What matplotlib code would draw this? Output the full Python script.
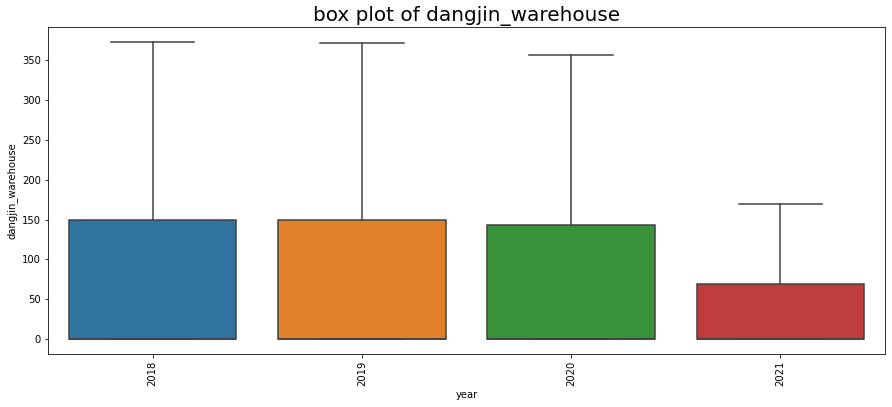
import matplotlib
matplotlib.use("Agg")
import matplotlib.pyplot as plt
from matplotlib.patches import PathPatch

# box statistics
years = ["2018", "2019", "2020", "2021"]
q1 = [0, 0, 0, 0]
median = [0, 0, 0, 0]
q3 = [149, 149, 143, 69]
whis_lo = [0, 0, 0, 0]
whis_hi = [373, 372, 357, 170]
colors = ["#3274a1", "#e1812c", "#3a923a", "#c03d3e"]

stats = []
for i, y in enumerate(years):
    stats.append({"label": y, "q1": q1[i], "med": median[i], "q3": q3[i],
                  "whislo": whis_lo[i], "whishi": whis_hi[i], "fliers": []})

dpi = 72
fig = plt.figure(figsize=(892 / dpi, 407 / dpi), dpi=dpi)
ax = fig.add_axes([48 / 892, 53 / 407, 837 / 892, 327 / 407])

line_col = "#3f3f3f"
bp = ax.bxp(stats, positions=range(len(years)), widths=0.8, patch_artist=True,
            showfliers=False,
            boxprops=dict(edgecolor=line_col, linewidth=1.5),
            whiskerprops=dict(color=line_col, linewidth=1.5),
            capprops=dict(color=line_col, linewidth=1.5),
            medianprops=dict(color=line_col, linewidth=1.5))
for patch, c in zip(bp["boxes"], colors):
    patch.set_facecolor(c)

# caps are half box width in seaborn
for i, cap in enumerate(bp["caps"]):
    xd = cap.get_xdata()
    mid = (xd[0] + xd[1]) / 2
    cap.set_xdata([mid - 0.2, mid + 0.2])

ax.set_xlim(-0.5, len(years) - 0.5)
ax.set_ylim(-18.65, 391.65)
ax.set_xticks(range(len(years)))
ax.set_xticklabels(years, rotation=90)
ax.set_xlabel("year")
ax.set_ylabel("dangjin_warehouse")
ax.set_title("box plot of dangjin_warehouse", fontsize=20)

plt.savefig("out.png", dpi=dpi)
